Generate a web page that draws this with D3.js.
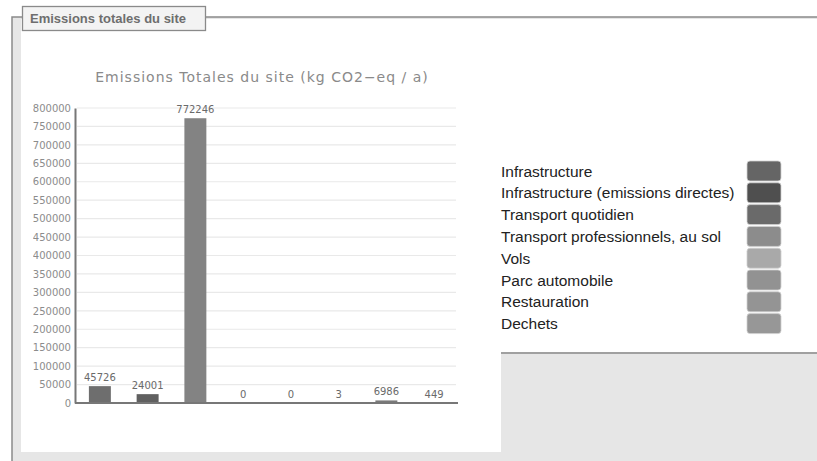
<!DOCTYPE html>
<meta charset="utf-8">
<style>
body{ margin:0; background:#fff; }
svg{ display:block; }
.title{ font-family:"DejaVu Sans", sans-serif; font-size:14px; letter-spacing:1px; fill:#8a8a8a; text-anchor:middle; }
.yaxis text{ font-family:"DejaVu Sans", sans-serif; font-size:10px; fill:#8c8c8c; }
.val{ font-family:"DejaVu Sans", sans-serif; font-size:10px; fill:#6a6a6a; text-anchor:middle; }
.leg{ font-family:"Liberation Sans", Arial, sans-serif; font-size:15.5px; fill:#222; }
.box{ font-family:"Liberation Sans", Arial, sans-serif; font-size:13px; font-weight:bold; fill:#6e6e6e; }
</style>
<body>
<script src="https://d3js.org/d3.v7.min.js"></script>
<script>
// ---------- data ----------
var categories = ["Infrastructure", "Infrastructure (emissions directes)", "Transport quotidien",
    "Transport professionnels, au sol", "Vols", "Parc automobile", "Restauration", "Dechets"];
var values = [45726, 24001, 772246, 0, 0, 3, 6986, 449];
var yTicks = [0, 50000, 100000, 150000, 200000, 250000, 300000, 350000, 400000,
    450000, 500000, 550000, 600000, 650000, 700000, 750000, 800000];
var barColors = ["#6e6e6e", "#606060", "#838383", "#7c7c7c", "#8a8a8a", "#888888", "#7a7a7a", "#868686"];
var legendColors = ["#656565", "#4f4f4f", "#6a6a6a", "#8c8c8c", "#a9a9a9", "#929292", "#949494", "#979797"];
var chartTitle = "Emissions Totales du site (kg CO2\u2212eq / a)";
var boxTitle = "Emissions totales du site";

var W = 817, H = 461;
var svg = d3.select("body").append("svg").attr("width", W).attr("height", H);

// clip for the chart image (left edge cuts the tick labels)
svg.append("clipPath").attr("id", "chartClip")
    .append("rect").attr("x", 33).attr("y", 19).attr("width", 468).attr("height", 433);

// ---------- panel / fieldset ----------
svg.append("rect").attr("x", 12).attr("y", 17).attr("width", W - 12).attr("height", H - 17).attr("fill", "#e6e6e6");
svg.append("rect").attr("x", 21).attr("y", 19).attr("width", W - 21).attr("height", 334).attr("fill", "#fff");
svg.append("rect").attr("x", 21).attr("y", 19).attr("width", 480).attr("height", 433).attr("fill", "#fff");
svg.append("line").attr("x1", 501).attr("x2", W).attr("y1", 353).attr("y2", 353)
    .attr("stroke", "#a0a0a0").attr("stroke-width", 2);

svg.append("path").attr("d", "M12," + H + "V17H22M206,17H" + W)
    .attr("fill", "none").attr("stroke", "#8a8a8a").attr("stroke-width", 1.5);
svg.append("rect").attr("x", 22.5).attr("y", 6.5).attr("width", 183).attr("height", 24)
    .attr("fill", "#f3f3f3").attr("stroke", "#8a8a8a").attr("stroke-width", 1.3);
svg.append("text").attr("class", "box").attr("x", 30).attr("y", 23).text(boxTitle);

// ---------- chart ----------
var chart = svg.append("g").attr("clip-path", "url(#chartClip)");
var x = d3.scaleBand().domain(d3.range(values.length)).range([76, 458]).paddingInner(0.54).paddingOuter(0.27);
var y = d3.scaleLinear().domain([0, 800000]).range([403, 108]);

chart.append("text").attr("class", "title").attr("x", 262).attr("y", 82).text(chartTitle);

// grid
chart.append("g").selectAll("line").data(yTicks.slice(1)).join("line")
    .attr("x1", 77).attr("x2", 456)
    .attr("y1", d => y(d)).attr("y2", d => y(d))
    .attr("stroke", "#e9e9e9").attr("stroke-width", 1.2);

// y axis
var yAxis = chart.append("g").attr("class", "yaxis").attr("transform", "translate(75,0)")
    .call(d3.axisLeft(y).tickValues(yTicks).tickFormat(d3.format("d")).tickSize(0).tickPadding(4));
yAxis.select(".domain").attr("stroke", "#777").attr("stroke-width", 2);

// bars
chart.append("g").selectAll("rect").data(values).join("rect")
    .attr("x", (d, i) => x(i)).attr("width", x.bandwidth())
    .attr("y", d => y(d)).attr("height", d => 403 - y(d))
    .attr("fill", (d, i) => barColors[i]);

chart.append("g").selectAll("text").data(values).join("text")
    .attr("class", "val")
    .attr("x", (d, i) => x(i) + x.bandwidth() / 2)
    .attr("y", d => y(d) - 5)
    .text(d => d);

// x axis line
chart.append("line").attr("x1", 75).attr("x2", 458).attr("y1", 403).attr("y2", 403)
    .attr("stroke", "#777").attr("stroke-width", 2);

// ---------- legend ----------
var leg = svg.append("g").selectAll("g").data(categories).join("g")
    .attr("transform", (d, i) => "translate(0," + (161 + i * 21.8) + ")");
leg.append("text").attr("class", "leg").attr("x", 501).attr("y", 15.5).text(d => d);
leg.append("rect").attr("x", 747).attr("y", 0).attr("width", 34).attr("height", 20)
    .attr("rx", 3).attr("fill", (d, i) => legendColors[i])
    .attr("stroke", "#d0d0d0").attr("stroke-width", 0.8);
</script>
</body>
</html>
